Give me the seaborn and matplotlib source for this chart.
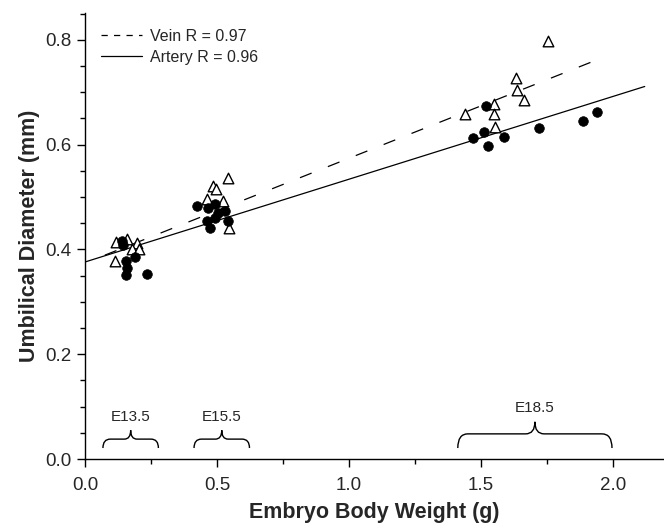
import numpy as np
import seaborn as sns
import matplotlib.pyplot as plt
from matplotlib.path import Path
from matplotlib.patches import PathPatch
from matplotlib.lines import Line2D
from matplotlib.ticker import MultipleLocator

# umbilical vein (open triangles)
vein_weight = [0.116, 0.160, 0.198, 0.177, 0.206, 0.114,
               0.543, 0.486, 0.496, 0.464, 0.524, 0.545,
               1.753, 1.631, 1.637, 1.664, 1.551, 1.549, 1.439, 1.554]
vein_diam = [0.415, 0.420, 0.412, 0.401, 0.401, 0.378,
             0.536, 0.521, 0.516, 0.497, 0.492, 0.440,
             0.798, 0.728, 0.705, 0.685, 0.677, 0.658, 0.658, 0.633]

# umbilical artery (filled circles)
artery_weight = [0.139, 0.145, 0.189, 0.155, 0.158, 0.155, 0.233,
                 0.423, 0.492, 0.467, 0.505, 0.530, 0.461, 0.492, 0.540, 0.473,
                 1.517, 1.513, 1.471, 1.525, 1.588, 1.718, 1.885, 1.938]
artery_diam = [0.416, 0.408, 0.386, 0.377, 0.364, 0.351, 0.354,
               0.482, 0.486, 0.479, 0.469, 0.473, 0.454, 0.460, 0.454, 0.440,
               0.674, 0.625, 0.612, 0.598, 0.614, 0.632, 0.646, 0.663]

# fitted lines: intercept, slope, x range
vein_fit = [0.374, 0.200]
vein_range = [0.075, 1.92]
artery_fit = [0.376, 0.158]
artery_range = [0.0, 2.12]

# embryonic stage groups
stages = ["E13.5", "E15.5", "E18.5"]
stage_start = [0.068, 0.413, 1.412]
stage_end = [0.278, 0.623, 1.996]
# brace heights: bottom, flat, tip, label
stage_y = [[0.021, 0.038, 0.055, 0.081],
           [0.021, 0.038, 0.055, 0.081],
           [0.021, 0.048, 0.071, 0.097]]

sns.set_style("ticks")
plt.rcParams['font.family'] = ['Liberation Sans', 'DejaVu Sans']

fig = plt.figure(figsize=(6.64, 5.24), dpi=100)
ax = fig.add_axes([0.128, 0.124, 0.872, 0.851])

sns.scatterplot(x=vein_weight, y=vein_diam, marker='^', s=58,
                facecolor='white', edgecolor='black', linewidth=1, ax=ax, zorder=3)
sns.scatterplot(x=artery_weight, y=artery_diam, marker='o', s=48,
                color='black', edgecolor='black', linewidth=0.5, ax=ax, zorder=4)

vein_dash = (0, (10, 14))
vx = np.array(vein_range)
arx = np.array(artery_range)
sns.lineplot(x=vx, y=vein_fit[0] + vein_fit[1] * vx, color='black', lw=0.9,
             linestyle=vein_dash, ax=ax, zorder=2)
sns.lineplot(x=arx, y=artery_fit[0] + artery_fit[1] * arx, color='black', lw=0.9,
             ax=ax, zorder=2)

# curly braces marking the stages
for name, x0, x1, (y0, y1, y2, yl) in zip(stages, stage_start, stage_end, stage_y):
    big = (x1 - x0) > 0.4
    xm = (x0 + x1) / 2
    r = 0.038 if big else 0.028
    r2 = 0.035 if big else 0.024
    verts = [(x0, y0), (x0, y1), (x0 + r, y1), (xm - r2, y1), (xm, y1), (xm, y2),
             (xm, y2), (xm, y1), (xm + r2, y1), (x1 - r, y1), (x1, y1), (x1, y0)]
    codes = [Path.MOVETO, Path.CURVE3, Path.CURVE3, Path.LINETO, Path.CURVE3, Path.CURVE3,
             Path.MOVETO, Path.CURVE3, Path.CURVE3, Path.LINETO, Path.CURVE3, Path.CURVE3]
    ax.add_patch(PathPatch(Path(verts, codes), fill=False, edgecolor='black', lw=1))
    ax.text(xm, yl, name, ha='center', va='center', fontsize=11)

ax.set_xlim(0, 2.193)
ax.set_ylim(0, 0.851)
ax.xaxis.set_major_locator(MultipleLocator(0.5))
ax.xaxis.set_minor_locator(MultipleLocator(0.25))
ax.yaxis.set_major_locator(MultipleLocator(0.2))
ax.yaxis.set_minor_locator(MultipleLocator(0.05))
ax.xaxis.set_major_formatter(lambda v, p: f"{v:.1f}")
ax.yaxis.set_major_formatter(lambda v, p: f"{v:.1f}")
ax.tick_params(which='major', direction='out', length=6, width=1, labelsize=13.5, color='black')
ax.tick_params(which='minor', direction='out', length=3.5, width=1, color='black')
ax.tick_params(axis='x', which='major', pad=7)
sns.despine(ax=ax)
for sp in ['left', 'bottom']:
    ax.spines[sp].set_color('black')
    ax.spines[sp].set_linewidth(1)

ax.set_xlabel("Embryo Body Weight (g)", fontsize=15.5, fontweight='bold', labelpad=6)
ax.set_ylabel("Umbilical Diameter (mm)", fontsize=15.5, fontweight='bold')

handles = [Line2D([], [], color='black', lw=0.9, linestyle=(0, (5, 5))),
           Line2D([], [], color='black', lw=0.9)]
ax.legend(handles, ['Vein R = 0.97', 'Artery R = 0.96'], loc='upper left',
          bbox_to_anchor=(0.0, 1.0), frameon=False, fontsize=11.5,
          handlelength=2.6, handletextpad=0.5, labelspacing=0.35, borderaxespad=0.6)

plt.savefig("out.png", dpi=100)
